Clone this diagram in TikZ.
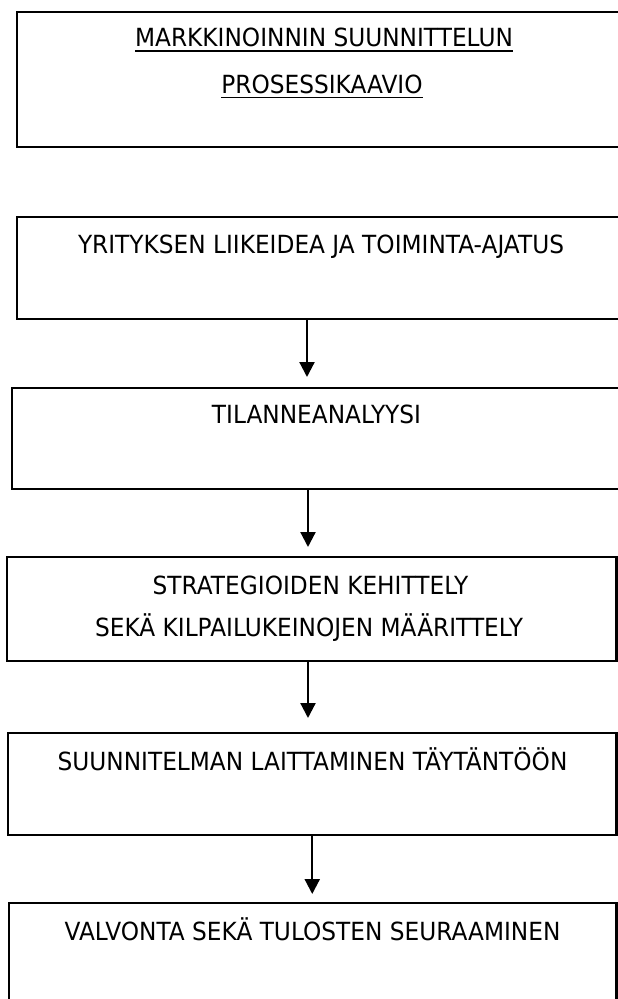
\documentclass[tikz,border=0pt]{standalone}
\usepackage{fontspec}
\setmainfont{DejaVu Sans}[FakeStretch=0.93]
\usetikzlibrary{arrows.meta}
\begin{document}
\begin{tikzpicture}[x=1pt,y=-1pt]
\tikzset{
  box/.style={draw, line width=2.2pt, rectangle, inner sep=0pt, outer sep=0pt},
  txt/.style={inner sep=0pt, outer sep=0pt, anchor=base, font=\fontsize{25}{30}\selectfont},
  arr/.style={line width=2.2pt, -{Triangle[length=15pt,width=15pt]}},
  uline/.style={line width=1.8pt}
}
\useasboundingbox (0,0) rectangle (618,999);
\clip (0,0) rectangle (618,999);
% boxes
\node[box, minimum width=603pt, minimum height=135pt] (b1) at (318.5,79.5) {};
\node[box, minimum width=603pt, minimum height=102pt] (b2) at (318.5,268) {};
\node[box, minimum width=608pt, minimum height=101pt] (b3) at (316,438.5) {};
\node[box, minimum width=609.5pt, minimum height=104pt] (b4) at (311.75,609) {};
\node[box, minimum width=608.5pt, minimum height=102pt] (b5) at (312.25,784) {};
\node[box, minimum width=607.5pt, minimum height=107pt] (b6) at (312.75,956.5) {};
% texts
\node[txt] (t1a) at (324,46.5) {MARKKINOINNIN SUUNNITTELUN};
\node[txt] (t1b) at (322,93) {PROSESSIKAAVIO};
\draw[uline] ([yshift=-4.5pt]t1a.base west) -- ([yshift=-4.5pt]t1a.base east);
\draw[uline] ([yshift=-4.5pt]t1b.base west) -- ([yshift=-4.5pt]t1b.base east);
\node[txt] (t2) at (321,253.5) {YRITYKSEN LIIKEIDEA JA TOIMINTA-AJATUS};
\node[txt] (t3) at (316.5,423.7) {TILANNEANALYYSI};
\node[txt] (t4a) at (310.5,594) {STRATEGIOIDEN KEHITTELY};
\node[txt] (t4b) at (309,636) {SEKÄ KILPAILUKEINOJEN MÄÄRITTELY};
\node[txt] (t5) at (312.5,770) {SUUNNITELMAN LAITTAMINEN TÄYTÄNTÖÖN};
\node[txt] (t6) at (312.5,940) {VALVONTA SEKÄ TULOSTEN SEURAAMINEN};
% arrows
\draw[arr] ([xshift=-11.5pt]b2.south) -- ([xshift=-11.5pt,yshift=11pt]b2.south |- b3.north);
\draw[arr] ([xshift=-8pt]b3.south) -- ([xshift=-8pt,yshift=10pt]b3.south |- b4.north);
\draw[arr] ([xshift=-3.75pt]b4.south) -- ([xshift=-3.75pt,yshift=15pt]b4.south |- b5.north);
\draw[arr] (b5.south) -- ([yshift=9pt]b5.south |- b6.north);
\end{tikzpicture}
\end{document}
